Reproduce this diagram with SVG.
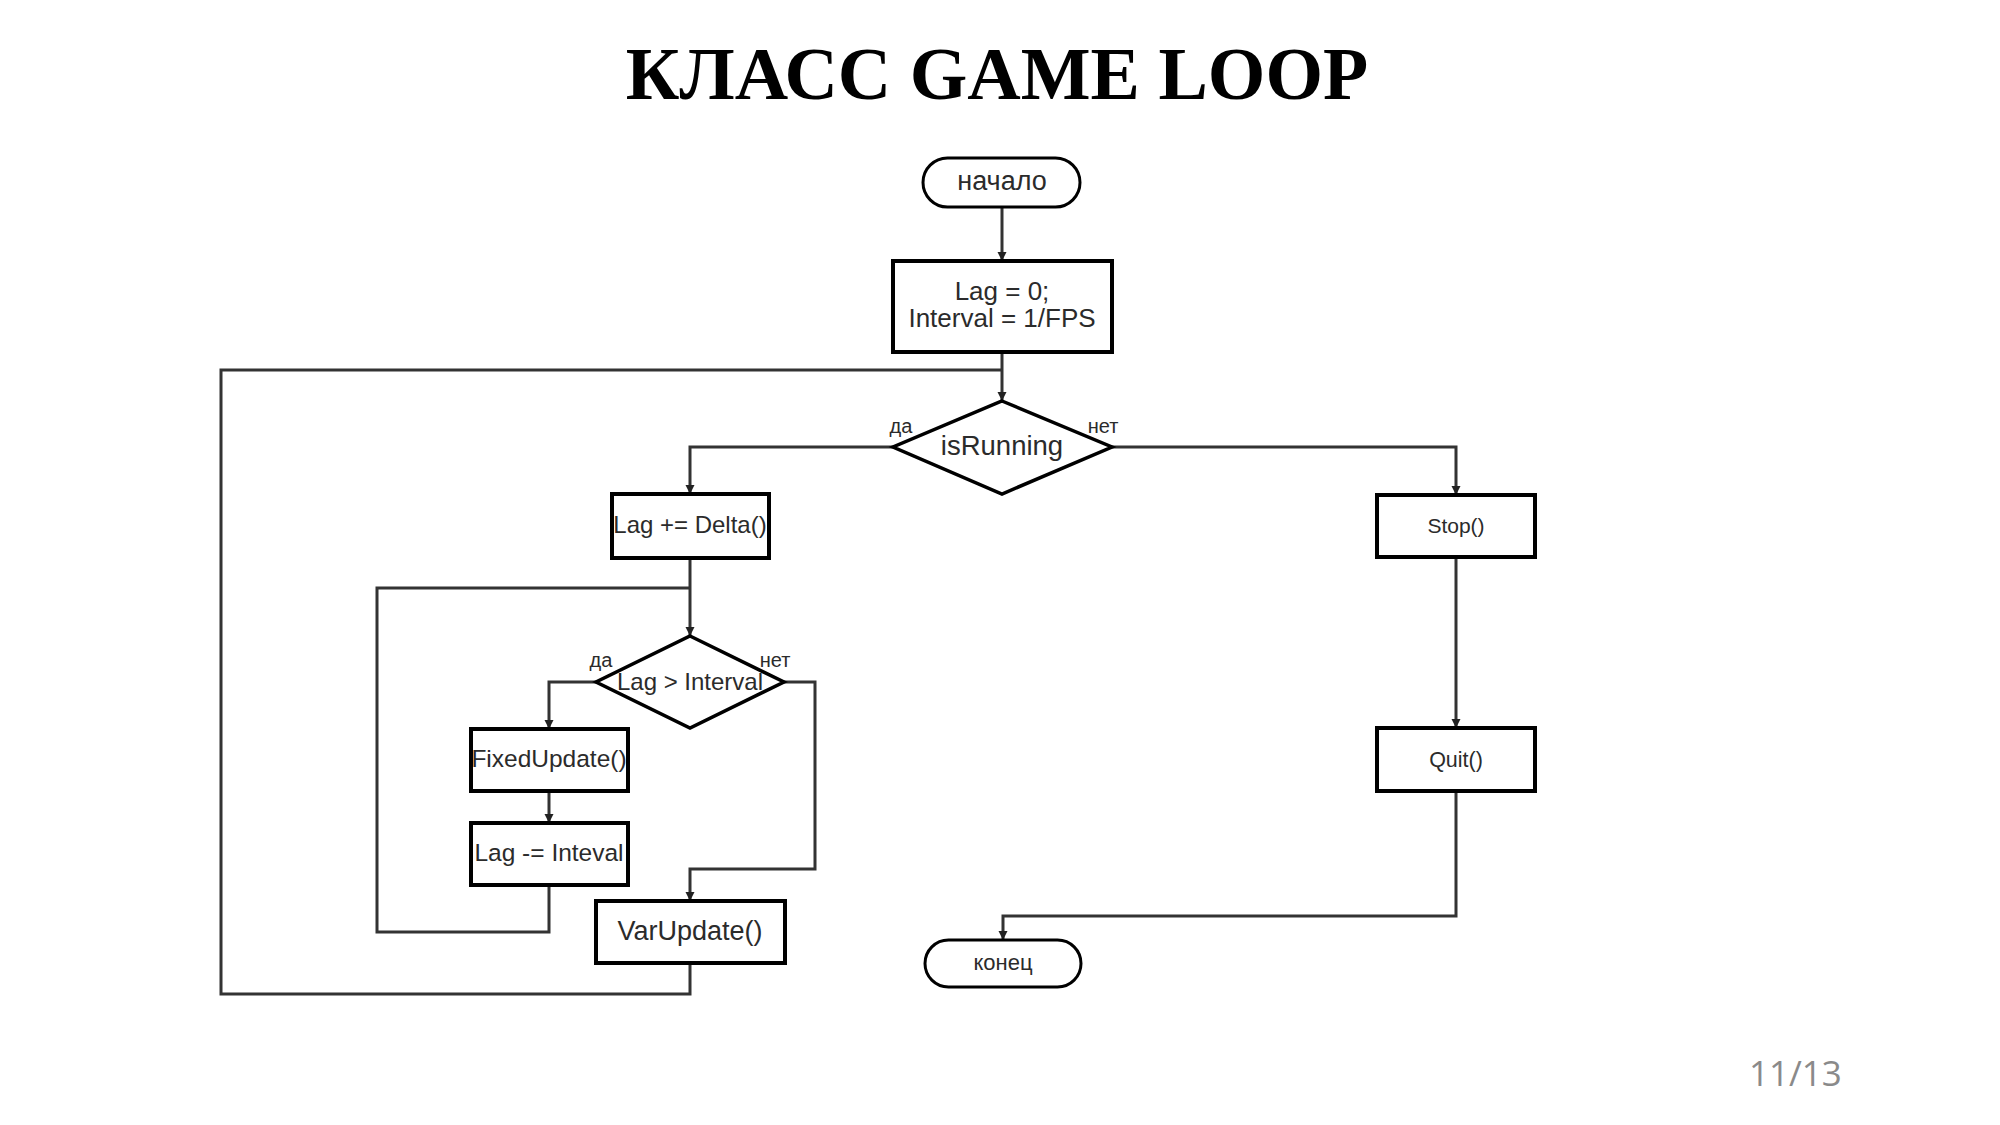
<svg xmlns="http://www.w3.org/2000/svg" width="2000" height="1125" viewBox="0 0 2000 1125">
<style>
.bg{fill:#ffffff}
.title{font-family:"Liberation Serif","Times New Roman",serif;font-weight:bold;font-size:74px;fill:#000;text-anchor:middle}
.page{font-family:"Open Sans","Noto Sans",sans-serif;font-size:35px;fill:#8a8a8a}
.box{fill:#fff;stroke:#000;stroke-width:4}
.term{fill:#fff;stroke:#000;stroke-width:3}
.dia{fill:#fff;stroke:#000;stroke-width:3.5}
.t{font-family:"Liberation Sans",Arial,sans-serif;fill:#2b2b2b;text-anchor:middle}
.lbl{font-family:"Liberation Sans",Arial,sans-serif;fill:#2b2b2b;text-anchor:middle;font-size:20px}
.c{fill:none;stroke:#333;stroke-width:3}
.ca{fill:none;stroke:#333;stroke-width:3;marker-end:url(#arr)}
</style>
<defs>
<marker id="arr" viewBox="0 0 10 10" refX="10" refY="5" markerWidth="3" markerHeight="3.5" orient="auto" markerUnits="strokeWidth">
<path d="M0,0 L10,5 L0,10 z" fill="#222"/>
</marker>
</defs>
<rect class="bg" x="0" y="0" width="2000" height="1125"/>
<text class="title" x="997" y="99">КЛАСС GAME LOOP</text>
<text class="page" x="1749" y="1086">11/13</text>

<g id="connectors">
<path class="ca" d="M1002,207 V261"/>
<path class="ca" d="M1002,352 V401"/>
<path class="ca" d="M893,447 H690 V494"/>
<path class="ca" d="M690,558 V636"/>
<path class="ca" d="M596,682 H549 V729"/>
<path class="ca" d="M549,791 V823"/>
<path class="c" d="M549,885 V932 H377 V588 H690"/>
<path class="ca" d="M784,682 H815 V869 H690 V901"/>
<path class="c" d="M690,963 V994 H221 V370 H1002"/>
<path class="ca" d="M1112,447 H1456 V495"/>
<path class="ca" d="M1456,557 V728"/>
<path class="ca" d="M1456,791 V916 H1003 V940"/>
</g>

<g id="start">
<rect class="term" x="923" y="158" width="157" height="49" rx="24.5"/>
<text class="t" x="1002" y="190" font-size="27">начало</text>
</g>
<g id="init">
<rect class="box" x="893" y="261" width="219" height="91"/>
<text class="t" x="1002" y="300" font-size="26">Lag = 0;</text>
<text class="t" x="1002" y="327" font-size="26">Interval = 1/FPS</text>
</g>
<g id="isRunning">
<polygon class="dia" points="1002,401 1112,447 1002,494 893,447"/>
<text class="t" x="1002" y="455" font-size="27.5">isRunning</text>
<text class="lbl" x="901" y="433">да</text>
<text class="lbl" x="1103" y="433">нет</text>
</g>
<g id="lagDelta">
<rect class="box" x="612" y="494" width="157" height="64"/>
<text class="t" x="690" y="533" font-size="24">Lag += Delta()</text>
</g>
<g id="lagInterval">
<polygon class="dia" points="690,636 784,682 690,728 596,682"/>
<text class="t" x="690" y="690" font-size="24">Lag &gt; Interval</text>
<text class="lbl" x="601" y="667">да</text>
<text class="lbl" x="775" y="667">нет</text>
</g>
<g id="fixedUpdate">
<rect class="box" x="471" y="729" width="157" height="62"/>
<text class="t" x="549" y="767" font-size="24.5">FixedUpdate()</text>
</g>
<g id="lagMinus">
<rect class="box" x="471" y="823" width="157" height="62"/>
<text class="t" x="549" y="861" font-size="24.5">Lag -= Inteval</text>
</g>
<g id="varUpdate">
<rect class="box" x="596" y="901" width="189" height="62"/>
<text class="t" x="690" y="940" font-size="27">VarUpdate()</text>
</g>
<g id="stop">
<rect class="box" x="1377" y="495" width="158" height="62"/>
<text class="t" x="1456" y="533" font-size="21">Stop()</text>
</g>
<g id="quit">
<rect class="box" x="1377" y="728" width="158" height="63"/>
<text class="t" x="1456" y="767" font-size="21.5">Quit()</text>
</g>
<g id="end">
<rect class="term" x="925" y="940" width="156" height="47" rx="23.5"/>
<text class="t" x="1003" y="970" font-size="22">конец</text>
</g>
</svg>
